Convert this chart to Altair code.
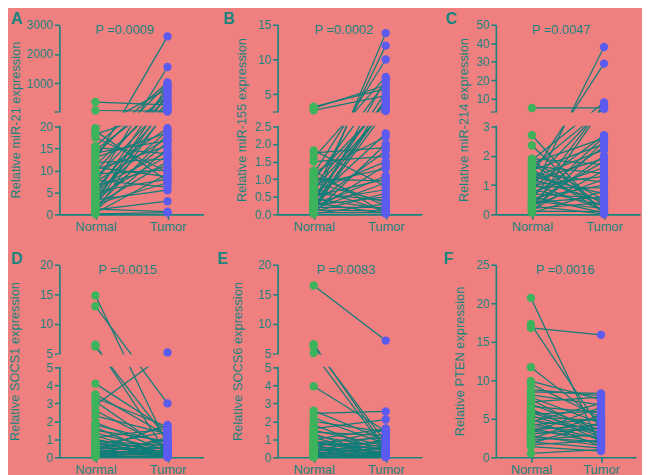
import altair as alt
import pandas as pd

BG = "#F08080"
TEAL = "#17847e"
LINE = "#0f7d79"
GREEN = "#3db35c"
BLUE = "#5b5bef"
FONT = "Liberation Sans"

# ---------------- data ----------------
A_normal = [0.1, 0.3, 0.5, 0.8, 1.0, 1.2, 1.5, 1.8, 2.0, 2.3, 2.6, 3.0, 3.3, 3.6, 4.0,
            4.4, 4.8, 5.2, 5.6, 6.0, 6.5, 7.0, 7.4, 7.8, 8.3, 8.8, 9.2, 9.7, 10.2, 10.7,
            11.2, 11.8, 12.3, 12.9, 13.5, 14.0, 14.6, 15.2, 15.5, 17.5, 18.2, 19.0, 19.6, 60, 350]
A_tumor = [0.4, 9.2, 120, 15.0, 3.0, 0.6, 18.2, 400, 12.0, 7.2, 650, 16.4, 5.5, 25, 13.3,
           880, 19.0, 8.0, 180, 14.2, 11.0, 1550, 17.3, 6.2, 320, 19.6, 10.1, 720, 15.6, 8.6,
           480, 12.6, 2600, 18.6, 950, 16.8, 560, 13.8, 1020, 9.7, 80, 7.6, 800, 40, 250]

B_normal = [0.02, 0.03, 0.05, 0.07, 0.08, 0.1, 0.12, 0.14, 0.15, 0.18, 0.2, 0.22, 0.23, 0.26, 0.28,
            0.3, 0.33, 0.36, 0.38, 0.4, 0.44, 0.48, 0.52, 0.56, 0.6, 0.65, 0.7, 0.75, 0.8, 0.85,
            0.9, 0.95, 1.0, 1.05, 1.1, 1.15, 1.2, 1.25, 1.5, 1.6, 1.75, 1.82, 2.7, 3.0, 3.2]
B_tumor = [0.3, 2.0, 0.05, 4.4, 0.6, 1.4, 0.1, 7.2, 0.9, 2.6, 0.2, 1.1, 3.3, 0.5, 13.8,
           1.8, 0.03, 5.3, 0.7, 2.3, 0.15, 3.0, 1.0, 12.0, 0.4, 1.5, 2.8, 0.08, 4.0, 1.3,
           0.35, 6.8, 0.95, 3.6, 0.25, 10.0, 2.2, 0.02, 1.65, 7.5, 1.9, 0.8, 4.8, 6.3, 5.8]

C_normal = [0.05, 0.08, 0.1, 0.15, 0.18, 0.2, 0.25, 0.28, 0.3, 0.35, 0.4, 0.42, 0.45, 0.5, 0.55,
            0.6, 0.65, 0.7, 0.75, 0.8, 0.85, 0.9, 0.95, 1.0, 1.05, 1.1, 1.15, 1.2, 1.25, 1.3,
            1.35, 1.4, 1.45, 1.5, 1.55, 1.6, 1.65, 1.7, 1.75, 1.8, 1.85, 1.9, 2.35, 2.7, 5.0]
C_tumor = [0.8, 2.5, 0.1, 1.5, 6.0, 0.4, 2.0, 0.02, 1.2, 2.65, 0.6, 1.8, 0.2, 7.0, 1.0,
           0.05, 2.3, 0.55, 1.6, 38, 0.3, 2.7, 0.9, 1.3, 0.15, 5.5, 1.9, 0.45, 2.2, 0.7,
           29, 1.1, 0.25, 2.4, 0.08, 4.5, 1.4, 0.35, 2.6, 0.5, 8.0, 1.7, 0.03, 0.01, 5.0]

D_normal = [0.02, 0.05, 0.08, 0.1, 0.13, 0.16, 0.2, 0.24, 0.28, 0.32, 0.36, 0.4, 0.45, 0.5,
            0.55, 0.6, 0.65, 0.7, 0.75, 0.8, 0.85, 0.9, 1.0, 1.1, 1.2, 1.35, 1.5, 1.65, 1.8,
            1.95, 2.3, 2.6, 2.9, 3.1, 3.3, 3.5, 4.1, 6.2, 6.5, 13.0, 14.8]
D_tumor = [0.3, 0.05, 0.6, 0.02, 1.1, 0.15, 0.4, 0.08, 0.95, 0.12, 0.22, 1.8, 0.03, 0.5,
           0.25, 0.75, 0.1, 1.4, 0.18, 0.45, 0.04, 0.65, 0.28, 1.6, 0.06, 0.38, 0.9, 0.01, 0.8,
           0.33, 1.3, 0.55, 5.2, 0.35, 1.7, 1.2, 1.5, 1.0, 0.2, 3.0, 0.7]

E_normal = [0.02, 0.03, 0.05, 0.08, 0.1, 0.13, 0.16, 0.2, 0.24, 0.28, 0.32, 0.36, 0.4, 0.45,
            0.5, 0.55, 0.6, 0.65, 0.7, 0.75, 0.8, 0.85, 0.9, 1.0, 1.1, 1.2, 1.3, 1.4, 1.5,
            1.6, 1.8, 2.0, 2.2, 2.45, 2.6, 3.95, 5.1, 6.2, 6.6, 16.5]
E_tumor = [0.2, 0.01, 0.6, 0.02, 0.35, 1.0, 0.08, 0.5, 0.15, 1.3, 0.04, 0.7, 0.25, 0.9,
           0.12, 1.55, 0.3, 0.06, 0.8, 0.45, 1.1, 0.18, 0.4, 1.6, 0.1, 0.55, 0.03, 1.2, 0.65,
           2.1, 0.28, 1.4, 0.75, 2.55, 0.95, 1.45, 0.38, 0.85, 0.5, 7.2]

F_normal = [0.5, 1.4, 1.6, 1.8, 2.0, 2.2, 2.4, 2.6, 2.8, 3.0, 3.2, 3.4, 3.6, 3.8, 4.0, 4.2,
            4.4, 4.6, 4.8, 5.0, 5.2, 5.4, 5.6, 5.8, 6.0, 6.3, 6.6, 6.9, 7.2, 7.5, 7.8, 8.1,
            8.5, 8.8, 9.5, 9.9, 11.7, 16.8, 17.3, 20.7]
F_tumor = [1.0, 0.8, 2.2, 4.5, 1.2, 3.0, 5.5, 2.0, 1.5, 3.8, 6.5, 2.6, 4.2, 1.8, 3.3, 5.0,
           2.4, 7.0, 3.6, 1.4, 4.8, 2.8, 6.0, 3.1, 4.0, 2.1, 5.8, 3.5, 7.8, 2.9, 4.4, 6.8,
           8.3, 8.0, 5.2, 7.5, 4.6, 15.9, 3.7, 1.3]

GROUPS = ["Normal", "Tumor"]


def label_expr(ticks):
    parts = [f"abs(datum.value - {p:.4f}) < 0.01 ? '{lab}' : " for p, lab in ticks]
    return "".join(parts) + "''"


def panel(normal, tumor, title, pval, letter, width, lh, gap, uh,
          lower_max, upper_max, lower_ticks, upper_ticks, upper_base_label,
          fmt_low, fmt_up, letter_x, letter_y, title_x, pval_x):
    has_upper = upper_max is not None
    total = lh + gap + uh if has_upper else lh
    rows = []
    for i, (n, t) in enumerate(zip(normal, tumor)):
        rows.append({"pair": i, "group": "Normal", "value": n})
        rows.append({"pair": i, "group": "Tumor", "value": t})
    df = pd.DataFrame(rows)
    if has_upper:
        expr = (f"datum.value <= {lower_max} ? datum.value / {lower_max} * {lh} : "
                f"{lh + gap} + (datum.value - {lower_max}) / {upper_max - lower_max} * {uh}")
    else:
        expr = f"datum.value / {lower_max} * {lh}"

    ticks = [(v / lower_max * lh, fmt_low(v)) for v in lower_ticks]
    if has_upper:
        ticks.append((lh + gap, upper_base_label))
        for v in upper_ticks:
            ticks.append((lh + gap + (v - lower_max) / (upper_max - lower_max) * uh, fmt_up(v)))

    yaxis = alt.Axis(values=[p for p, _ in ticks], labelExpr=label_expr(ticks), title=title,
                     titleX=title_x, titleY=total / 2, zindex=0, domain=True,
                     labelFontSize=12, labelPadding=2, tickSize=5,
                     labelOverlap=False, labelFlush=False, labelBound=False,
                     labelSeparation=0)
    x = alt.X("group:N", sort=GROUPS, scale=alt.Scale(type="point", padding=0.5),
              axis=alt.Axis(title=None, labelAngle=0, labelFontSize=13, tickSize=5,
                            labelPadding=1, zindex=0, labelOverlap=False))
    y = alt.Y("pos:Q", scale=alt.Scale(domain=[0, total], nice=False, zero=False), axis=yaxis)

    base = alt.Chart(df).transform_calculate(pos=expr)
    lines = base.mark_line(color=LINE, strokeWidth=1.25).encode(x=x, y=y, detail="pair:N")
    pts = base.mark_circle(size=72, opacity=1).encode(
        x=x, y=y,
        color=alt.Color("group:N", scale=alt.Scale(domain=GROUPS, range=[GREEN, BLUE]), legend=None))
    one = pd.DataFrame({"k": [0]})
    ptext = alt.Chart(one).mark_text(text=pval, fontSize=13, color=TEAL, font=FONT,
                                     align="center", baseline="alphabetic").encode(
        x=alt.value(pval_x), y=alt.value(9))
    ltext = alt.Chart(one).mark_text(text=letter, fontSize=16, fontWeight="bold", color=TEAL,
                                     font=FONT, align="left", baseline="alphabetic").encode(
        x=alt.value(letter_x), y=alt.value(letter_y))
    layers = [lines]
    if has_upper:
        # mask of the axis break (between the two segments)
        gap_rect = alt.Chart(one).mark_rect(color=BG).encode(
            x=alt.value(-3), x2=alt.value(width + 2),
            y=alt.value(uh + 0.8), y2=alt.value(uh + gap - 0.8))
        layers.append(gap_rect)
    layers += [pts, ptext, ltext]
    return alt.layer(*layers).properties(width=width, height=total)


fmt_int = lambda v: f"{v:g}"
fmt_1 = lambda v: f"{v:.1f}"

pA = panel(A_normal, A_tumor, "Relative miR-21 expression", "P =0.0009", "A", 146, 89, 15, 88,
           20, 3000, [0, 5, 10, 15, 20], [1000, 2000, 3000], "", fmt_int, fmt_int, -49, -1, -37, 66)
pB = panel(B_normal, B_tumor, "Relative miR-155 expression", "P =0.0002", "B", 146, 89, 15, 88,
           2.5, 15, [0, 0.5, 1.0, 1.5, 2.0, 2.5], [5, 10, 15], "", fmt_1, fmt_int, -55, -1, -29, 67)
pC = panel(C_normal, C_tumor, "Relative miR-214 expression", "P =0.0047", "C", 146, 89, 15, 88,
           3, 50, [0, 1, 2, 3], [10, 20, 30, 40, 50], "", fmt_int, fmt_int, -51, -1, -26, 66)
pD = panel(D_normal, D_tumor, "Relative SOCS1 expression", "P =0.0015", "D", 146, 91, 14, 90,
           5, 20, [0, 1, 2, 3, 4, 5], [10, 15, 20], "5", fmt_int, fmt_int, -49, -1, -38, 69)
pE = panel(E_normal, E_tumor, "Relative SOCS6 expression", "P =0.0083", "E", 146, 91, 14, 90,
           5, 20, [0, 1, 2, 3, 4, 5], [10, 15, 20], "5", fmt_int, fmt_int, -61, -1, -34, 69)
pF = panel(F_normal, F_tumor, "Relative PTEN expression", "P =0.0016", "F", 142, 195, 0, 0,
           25, None, [0, 5, 10, 15, 20, 25], [], "", fmt_int, fmt_int, -53, -1, -30, 70)

chart = alt.concat(pA, pB, pC, pD, pE, pF, columns=3,
                   spacing={"row": 51, "column": 75}, bounds="flush").properties(
    padding=0, background=BG
).configure(font=FONT).configure_view(strokeWidth=0).configure_axis(
    domainColor=TEAL, tickColor=TEAL, labelColor=TEAL, titleColor=TEAL,
    domainWidth=1.6, tickWidth=1.6, labelFont=FONT, titleFont=FONT,
    titleFontSize=13, titleFontWeight="normal", grid=False, labelOverlap=False
).configure_axisY(labelOverlap=False)

chart.save("out.html", embed_options={"renderer": "svg", "actions": False})
